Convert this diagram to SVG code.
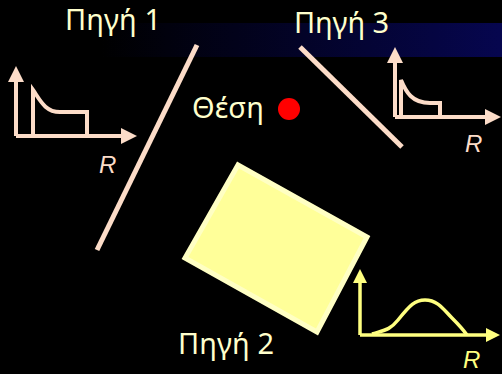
<svg xmlns="http://www.w3.org/2000/svg" width="502" height="374" viewBox="0 0 502 374">
<defs>
<linearGradient id="band" x1="0" y1="0" x2="1" y2="0">
<stop offset="0" stop-color="#000000"/>
<stop offset="0.2" stop-color="#000000"/>
<stop offset="1" stop-color="#06064f"/>
</linearGradient>
<marker id="ahP" markerWidth="4" markerHeight="4" refX="0" refY="2" orient="auto" markerUnits="strokeWidth">
<path d="M0,0 L4,2 L0,4 Z" fill="#fcdcc8"/>
</marker>
<marker id="ahY" markerWidth="4" markerHeight="4" refX="0" refY="2" orient="auto" markerUnits="strokeWidth">
<path d="M0,0 L4,2 L0,4 Z" fill="#ffff80"/>
</marker>
</defs>
<style>
.lbl{font-family:"Noto Sans","Open Sans",sans-serif;font-size:29px;fill:#ffffcc}
.r{font-family:"Liberation Sans",Arial,sans-serif;font-size:24px;font-style:italic;fill:#fcdcc8}
.ry{fill:#ffff80}
.beam{stroke:#fcdcc8;stroke-width:5;fill:none}
.ax{stroke:#fcdcc8;stroke-width:4;fill:none}
.axy{stroke:#ffff80;stroke-width:3.5;fill:none}
</style>
<rect width="502" height="374" fill="#000"/>
<rect x="0" y="23" width="502" height="34" fill="url(#band)"/>
<g id="connectors">
<line class="beam" x1="197" y1="45" x2="97" y2="250"/>
<line class="beam" x1="300" y1="47" x2="402" y2="147"/>
</g>
<g id="source1">
<text class="lbl" x="65" y="30" textLength="96">Πηγή 1</text>
</g>
<g id="graph1">
<polyline class="ax" points="16,136 16,82" marker-end="url(#ahP)"/>
<polyline class="ax" points="16,136 121,136" marker-end="url(#ahP)"/>
<path class="ax" d="M33,136 V90 C40,100 45,112 60,112 H87 V136"/>
<text class="r" x="99" y="173">R</text>
</g>
<g id="position">
<text class="lbl" x="192" y="118" textLength="72">Θέση</text>
<circle cx="289" cy="109" r="11" fill="#ff0000"/>
</g>
<g id="source3">
<text class="lbl" x="294" y="33" textLength="95">Πηγή 3</text>
</g>
<g id="graph3">
<polyline class="ax" points="395,117 395,63" marker-end="url(#ahP)"/>
<polyline class="ax" points="395,117 485,117" marker-end="url(#ahP)"/>
<path class="ax" d="M401,117 V80 C406,92 412,103 430,103 H440 V117"/>
<text class="r" x="465" y="152">R</text>
</g>
<g id="source2">
<polygon points="238,165 367,237 317,332 185,258" fill="#ffff99" stroke="#ffffc4" stroke-width="5" stroke-linejoin="miter"/>
<text class="lbl" x="178" y="354" textLength="96">Πηγή 2</text>
</g>
<g id="graph2">
<polyline class="axy" points="360,335 360,283" marker-end="url(#ahY)"/>
<polyline class="axy" points="360,335 486,335" marker-end="url(#ahY)"/>
<path class="axy" d="M372,334 C385,330 390,330 398,320 C410,305 415,300 425,300 C438,300 444,310 452,318 C460,326 462,328 467,335"/>
<text class="r ry" x="463" y="368">R</text>
</g>
</svg>
